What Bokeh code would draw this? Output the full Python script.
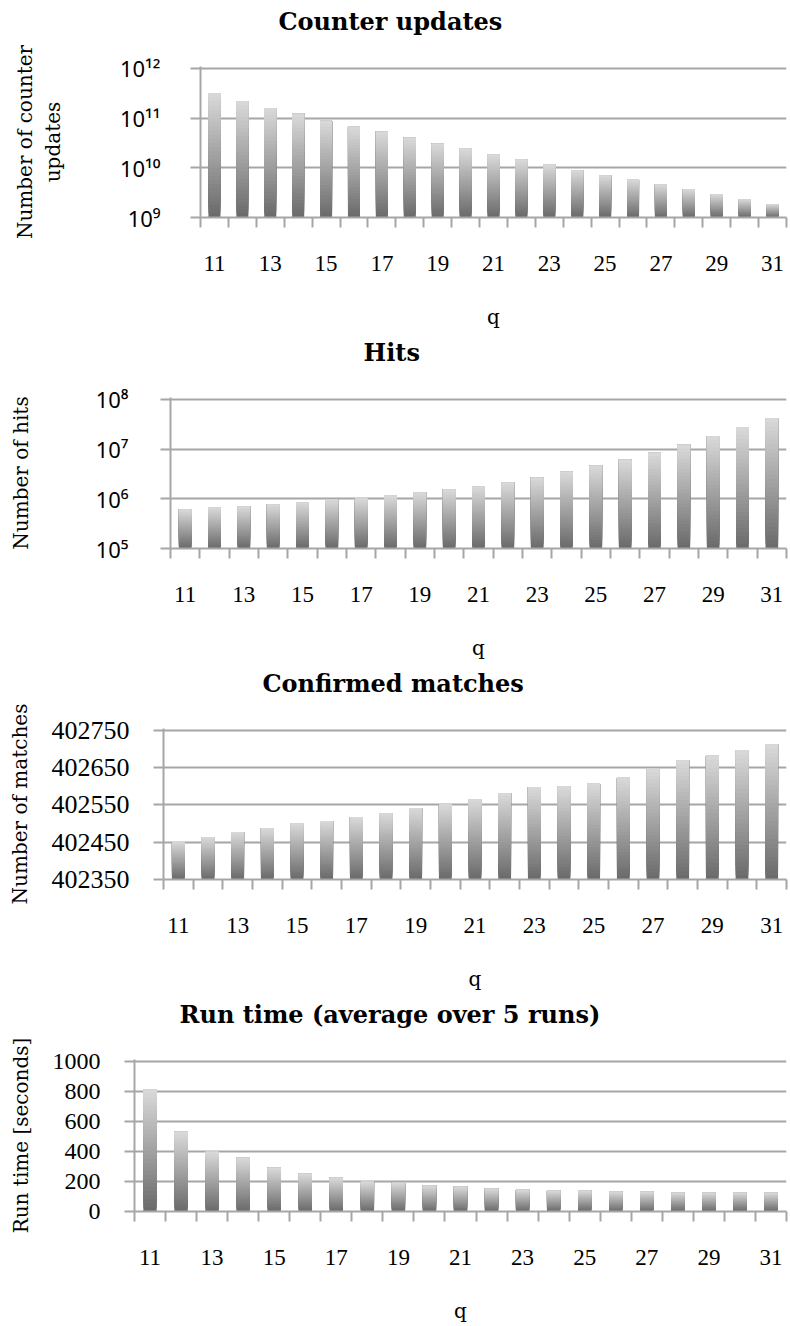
from bokeh.plotting import figure
from bokeh.layouts import column
from bokeh.models import Range1d, FixedTicker
from bokeh.embed import file_html
from bokeh.resources import INLINE
import numpy as np

# ---------------- data ----------------
q = list(range(11, 32))
x_tick_values = [11, 13, 15, 17, 19, 21, 23, 25, 27, 29, 31]

counter_updates = [3.2e11, 2.2e11, 1.61e11, 1.22e11, 8.85e10, 6.7e10, 5.3e10,
                   4.05e10, 3.07e10, 2.44e10, 1.85e10, 1.47e10, 1.17e10, 8.85e9,
                   7.0e9, 5.85e9, 4.64e9, 3.69e9, 2.93e9, 2.33e9, 1.85e9]
counter_ticks = [1e9, 1e10, 1e11, 1e12]
counter_tick_labels = ["10\u2079", "10\u00b9\u2070", "10\u00b9\u00b9", "10\u00b9\u00b2"]

hits = [6.1e5, 6.7e5, 7.0e5, 7.7e5, 8.45e5, 9.7e5, 1.02e6, 1.17e6, 1.34e6,
        1.54e6, 1.77e6, 2.12e6, 2.67e6, 3.52e6, 4.64e6, 6.12e6, 8.45e6,
        1.22e7, 1.85e7, 2.8e7, 4.24e7]
hits_ticks = [1e5, 1e6, 1e7, 1e8]
hits_tick_labels = ["10\u2075", "10\u2076", "10\u2077", "10\u2078"]

confirmed = [402452, 402464, 402477, 402488, 402501, 402507, 402518, 402528,
             402542, 402552, 402566, 402582, 402598, 402600, 402608, 402624,
             402648, 402670, 402683, 402697, 402713]
confirmed_ticks = [402350, 402450, 402550, 402650, 402750]
confirmed_tick_labels = ["402350", "402450", "402550", "402650", "402750"]

run_time = [813, 532, 399, 359, 292, 252, 225, 198, 192, 171, 165, 151, 145,
            138, 138, 131, 131, 125, 125, 125, 125]
run_ticks = [0, 200, 400, 600, 800, 1000]
run_tick_labels = ["0", "200", "400", "600", "800", "1000"]

# ---------------- style ----------------
GRAY = "#a6a6a6"
DARK = np.array([0x69, 0x69, 0x69])
LIGHT = np.array([0xda, 0xda, 0xda])
N_SLICES = 30
BAR_W = 0.43
FIG_W = 790
FRAME_H = 150
PAD = 2            # px of headroom so the top grid line is not clipped
TOP = 68           # from figure top to the top grid line
RIGHT = 4


def shade(f):
    c = DARK + (LIGHT - DARK) * f
    return "#%02x%02x%02x" % tuple(int(round(v)) for v in c)


def gradient_bars(p, xs, tops, base, log):
    tops = np.asarray(tops, dtype=float)
    for k in range(N_SLICES):
        f0 = k / N_SLICES
        color = shade((k + 0.5) / N_SLICES)
        if log:
            lb = np.log10(base)
            bottoms = 10 ** (lb + f0 * (np.log10(tops) - lb))
        else:
            bottoms = base + f0 * (tops - base)
        p.vbar(x=xs, bottom=list(bottoms), top=list(tops), width=BAR_W,
               fill_color=color, line_color=None)


def make_fig(title, title_offset, frame_left, fig_h, y_log, y_start, y_end,
             y_ticks, y_labels, y_label_font, y_label_size, y_label_standoff,
             ylabel, ylabel_standoff, values, ylabel_line_height=1.2):
    if y_log:
        a, b = np.log10(y_start), np.log10(y_end)
        y_top = 10 ** (b + (b - a) * PAD / FRAME_H)
    else:
        y_top = y_end + (y_end - y_start) * PAD / FRAME_H
    p = figure(width=FIG_W, height=fig_h,
               min_border_left=frame_left, min_border_right=RIGHT,
               min_border_top=TOP - PAD, min_border_bottom=fig_h - TOP - FRAME_H,
               x_range=Range1d(10.5, 31.5), y_range=Range1d(y_start, y_top),
               y_axis_type="log" if y_log else "linear",
               output_backend="svg", toolbar_location=None,
               title=title + "\n")
    if "frame_align" in p.properties():
        p.frame_align = False
    p.outline_line_color = None
    p.background_fill_color = "white"
    p.border_fill_color = "white"

    p.title.align = "left"
    p.title.offset = title_offset
    p.title.standoff = 4
    p.title.text_font = "DejaVu Serif"
    p.title.text_font_size = "24px"
    p.title.text_font_style = "bold"
    p.title.text_color = "black"

    gradient_bars(p, q, values, y_start, y_log)

    xa = p.xaxis[0]
    xa.ticker = FixedTicker(ticks=x_tick_values,
                            minor_ticks=[v + 0.5 for v in range(10, 32)])
    xa.major_tick_line_color = None
    xa.major_tick_out = 10
    xa.major_tick_in = 0
    xa.minor_tick_out = 10
    xa.minor_tick_in = 0
    xa.minor_tick_line_color = GRAY
    xa.minor_tick_line_width = 2
    xa.axis_line_color = GRAY
    xa.axis_line_width = 2
    xa.major_label_text_font = "Liberation Serif"
    xa.major_label_text_font_size = "23px"
    xa.major_label_text_color = "black"
    xa.major_label_standoff = 28
    xa.axis_label = "q"
    xa.axis_label_text_font = "DejaVu Serif"
    xa.axis_label_text_font_size = "20px"
    xa.axis_label_text_font_style = "normal"
    xa.axis_label_text_color = "black"
    xa.axis_label_standoff = 31

    ya = p.yaxis[0]
    ya.ticker = FixedTicker(ticks=y_ticks)
    ya.major_label_overrides = {t: s for t, s in zip(y_ticks, y_labels)}
    ya.major_tick_out = 10
    ya.major_tick_in = 0
    ya.major_tick_line_color = GRAY
    ya.major_tick_line_width = 2
    ya.minor_tick_line_color = None
    ya.axis_line_color = GRAY
    ya.axis_line_width = 2
    ya.major_label_text_font = y_label_font
    ya.major_label_text_font_size = y_label_size
    ya.major_label_text_color = "black"
    ya.major_label_standoff = y_label_standoff
    ya.axis_label = ylabel
    ya.axis_label_text_font = "DejaVu Serif"
    ya.axis_label_text_font_size = "20px"
    ya.axis_label_text_font_style = "normal"
    ya.axis_label_text_color = "black"
    ya.axis_label_text_line_height = ylabel_line_height
    ya.axis_label_standoff = ylabel_standoff

    p.xgrid.visible = False
    p.ygrid.grid_line_color = GRAY
    p.ygrid.grid_line_width = 2
    return p


p1 = make_fig("Counter updates", 78, 200, 331, True, 1e9, 1e12,
              counter_ticks, counter_tick_labels, "Noto Sans", "22px", 30,
              "Number of counter\nupdates", 52, counter_updates,
              ylabel_line_height=1.18)
p2 = make_fig("Hits", 193, 170, 331, True, 1e5, 1e8,
              hits_ticks, hits_tick_labels, "Noto Sans", "22px", 32,
              "Number of hits", 60, hits)
p3 = make_fig("Confirmed matches", 99, 163, 331, False, 402350, 402750,
              confirmed_ticks, confirmed_tick_labels, "Liberation Serif", "26px", 24,
              "Number of matches", 17, confirmed)
p4 = make_fig("Run time (average over 5 runs)", 45, 134, 332, False, 0, 1000,
              run_ticks, run_tick_labels, "Liberation Serif", "24px", 24,
              "Run time [seconds]", 17, run_time)

layout = column(p1, p2, p3, p4, spacing=0)
open("out.html", "w").write(file_html(layout, INLINE))
